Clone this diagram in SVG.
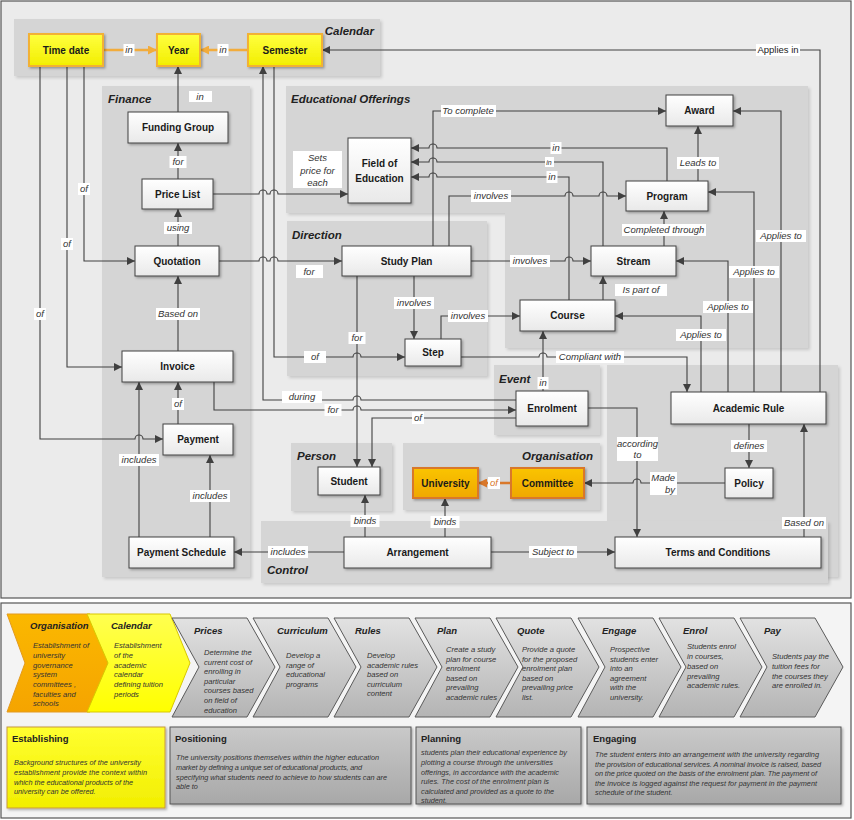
<svg xmlns="http://www.w3.org/2000/svg" width="854" height="820" viewBox="0 0 854 820">
<defs>
<linearGradient id="gw" x1="0" y1="0" x2="0" y2="1"><stop offset="0" stop-color="#ffffff"/><stop offset="1" stop-color="#e9e9e9"/></linearGradient>
<linearGradient id="gy" x1="0" y1="0" x2="0" y2="1"><stop offset="0" stop-color="#ffff40"/><stop offset="1" stop-color="#f2ee00"/></linearGradient>
<linearGradient id="go" x1="0" y1="0" x2="0" y2="1"><stop offset="0" stop-color="#fac400"/><stop offset="1" stop-color="#efa800"/></linearGradient>
<linearGradient id="gcg" x1="0" y1="0" x2="0" y2="1"><stop offset="0" stop-color="#e2e2e2"/><stop offset="1" stop-color="#b4b4b4"/></linearGradient>
<linearGradient id="gco" x1="0" y1="0" x2="0" y2="1"><stop offset="0" stop-color="#fbb800"/><stop offset="1" stop-color="#f5a400"/></linearGradient>
<linearGradient id="gcy" x1="0" y1="0" x2="0" y2="1"><stop offset="0" stop-color="#ffff50"/><stop offset="1" stop-color="#ffff00"/></linearGradient>
<linearGradient id="gbg" x1="0" y1="0" x2="0" y2="1"><stop offset="0" stop-color="#c9c9c9"/><stop offset="1" stop-color="#a8a8a8"/></linearGradient>
<linearGradient id="gby" x1="0" y1="0" x2="0" y2="1"><stop offset="0" stop-color="#ffff30"/><stop offset="1" stop-color="#f2ee00"/></linearGradient>
<filter id="sh" x="-10%" y="-10%" width="130%" height="140%"><feDropShadow dx="1.5" dy="1.5" stdDeviation="1" flood-color="#000" flood-opacity="0.3"/></filter>
<filter id="psh" x="-5%" y="-5%" width="110%" height="115%"><feDropShadow dx="2" dy="2" stdDeviation="1.5" flood-color="#000" flood-opacity="0.15"/></filter>
<marker id="a" viewBox="0 0 10 10" refX="10" refY="5" markerWidth="9" markerHeight="8" markerUnits="userSpaceOnUse" orient="auto"><path d="M0,0 L10,5 L0,10 z" fill="#404040"/></marker>
<marker id="ao" viewBox="0 0 10 10" refX="10" refY="5" markerWidth="10" markerHeight="9" markerUnits="userSpaceOnUse" orient="auto"><path d="M0,0 L10,5 L0,10 z" fill="#f2ac3c"/></marker>
<marker id="ad" viewBox="0 0 10 10" refX="10" refY="5" markerWidth="10" markerHeight="9" markerUnits="userSpaceOnUse" orient="auto"><path d="M0,0 L10,5 L0,10 z" fill="#d9782b"/></marker>
</defs>
<style>
text{font-family:"Liberation Sans",Arial,sans-serif}
.panel{fill:#d5d5d5}
.node{fill:url(#gw);stroke:#404040;stroke-width:1;filter:url(#sh)}
.ynode{fill:url(#gy);stroke:#f2b134;stroke-width:2;filter:url(#sh)}
.onode{fill:url(#go);stroke:#d9782b;stroke-width:2;filter:url(#sh)}
.nt{font-size:10px;font-weight:bold;text-anchor:middle;fill:#1a1a1a}
.gl{font-size:11.5px;font-weight:bold;font-style:italic;fill:#222}
.c{fill:none;stroke:#404040;stroke-width:1.1;marker-end:url(#a)}
.cn{fill:none;stroke:#404040;stroke-width:1.1}
.co{fill:none;stroke:#f2ac3c;stroke-width:2.5;marker-end:url(#ao)}
.cd{fill:none;stroke:#d9782b;stroke-width:2.5;marker-end:url(#ad)}
.lb{fill:#ffffff}
.lt{font-size:9.5px;font-style:italic;text-anchor:middle;fill:#333}
.chg{fill:url(#gcg);stroke:#5a5a5a;stroke-width:1}
.cht{font-size:9.5px;font-weight:bold;font-style:italic;fill:#222}
.chb{font-size:7.6px;font-style:italic;fill:#333}
.bt{font-size:9.5px;font-weight:bold;fill:#222}
.bb{font-size:7.3px;font-style:italic;fill:#333}
</style>

<!-- frames -->
<rect x="1" y="1" width="850" height="597" fill="#ebebeb" stroke="#555" stroke-width="1.2"/>
<rect x="1" y="603" width="850" height="215" fill="#f4f4f4" stroke="#555" stroke-width="1.2"/>

<!-- panels -->
<g id="panels">
<rect class="panel" x="14" y="19" width="366" height="57" filter="url(#psh)"/>
<rect class="panel" x="102" y="86" width="148" height="491" filter="url(#psh)"/>
<path class="panel" d="M286,86 H808 V348 H505 V213 H286 Z" filter="url(#psh)"/>
<rect class="panel" x="287" y="221" width="200" height="155" filter="url(#psh)"/>
<rect class="panel" x="494" y="365" width="106" height="70" filter="url(#psh)"/>
<rect class="panel" x="607" y="365" width="231" height="212" filter="url(#psh)"/>
<rect class="panel" x="261" y="521" width="567" height="62" filter="url(#psh)"/>
<rect class="panel" x="291" y="443" width="101" height="68" filter="url(#psh)"/>
<rect class="panel" x="403" y="443" width="197" height="67" filter="url(#psh)"/>
<text class="gl" x="374" y="35" text-anchor="end">Calendar</text>
<text class="gl" x="108" y="103">Finance</text>
<text class="gl" x="291" y="103">Educational Offerings</text>
<text class="gl" x="292" y="239">Direction</text>
<text class="gl" x="499" y="383">Event</text>
<text class="gl" x="297" y="460">Person</text>
<text class="gl" x="593" y="460" text-anchor="end">Organisation</text>
<text class="gl" x="267" y="574">Control</text>
</g>

<!-- connectors -->
<g id="connectors">
<path class="co" d="M103,50 H157"/>
<path class="co" d="M248,50 H200"/>
<path class="c" d="M178,112 V66"/>
<path class="c" d="M178,179 V143"/>
<path class="c" d="M178,246 V209"/>
<path class="c" d="M178,351 V276"/>
<path class="c" d="M178,424 V382"/>
<path class="c" d="M210,537 V455"/>
<path class="c" d="M139,537 V382"/>
<path class="c" d="M40,66 V439 H135 A4,4 0 0 1 143,439 H163"/>
<path class="c" d="M67,66 V367 H122"/>
<path class="c" d="M84,66 V261 H135"/>
<path class="c" d="M274,66 V357 H353 A4,4 0 0 1 361,357 H405"/>
<path class="c" d="M516,400 H361 A4,4 0 0 0 353,400 H263 V66"/>
<path class="c" d="M214,382 V410 H353 A4,4 0 0 1 361,410 H516"/>
<path class="c" d="M516,418 H372 V467"/>
<path class="c" d="M357,276 V467"/>
<path class="c" d="M219,261 H259 A4,4 0 0 1 267,261 H270 A4,4 0 0 1 278,261 H342"/>
<path class="c" d="M213,194 H259 A4,4 0 0 1 267,194 H270 A4,4 0 0 1 278,194 H348"/>
<path class="c" d="M414,276 V339"/>
<path class="c" d="M441,339 V316 H520"/>
<path class="c" d="M461,357 H539 A4,4 0 0 1 547,357 H687 V392"/>
<path class="c" d="M543,391 V331"/>
<path class="c" d="M471,261 H565 A4,4 0 0 1 573,261 H591"/>
<path class="c" d="M664,246 V211"/>
<path class="c" d="M603,300 V276"/>
<path class="c" d="M698,181 V126"/>
<path class="c" d="M433,246 V111 H666"/>
<path class="c" d="M667,181 V148 H437 A4,4 0 0 0 429,148 H411"/>
<path class="c" d="M603,246 V162 H437 A4,4 0 0 0 429,162 H411"/>
<path class="c" d="M569,300 V177 H437 A4,4 0 0 0 429,177 H411"/>
<path class="c" d="M449,246 V196 H565 A4,4 0 0 1 573,196 H599 A4,4 0 0 1 607,196 H626"/>
<path class="c" d="M781,392 V111 H733"/>
<path class="c" d="M754,392 V192 H708"/>
<path class="c" d="M728,392 V261 H676"/>
<path class="c" d="M701,392 V316 H615"/>
<path class="c" d="M820,392 V50 H322"/>
<path class="c" d="M749,424 V468"/>
<path class="c" d="M725,483 H641 A4,4 0 0 0 633,483 H584"/>
<path class="c" d="M588,408 H637 V537"/>
<path class="cd" d="M511,483 H478"/>
<path class="c" d="M445,537 V498"/>
<path class="c" d="M365,537 V495"/>
<path class="c" d="M344,552 H234"/>
<path class="c" d="M491,552 H615"/>
<path class="c" d="M804,537 V424"/>
</g>

<!-- connector labels -->
<g id="labels">
<rect class="lb" x="123.5" y="44" width="11" height="12"/><text class="lt" x="129" y="53.3">in</text>
<rect class="lb" x="217.5" y="44" width="11" height="12"/><text class="lt" x="223" y="53.3">in</text>
<rect class="lb" x="189" y="91" width="23" height="11"/><text class="lt" x="200" y="100">in</text>
<rect class="lb" x="169.5" y="156" width="17" height="12"/><text class="lt" x="178" y="165.3">for</text>
<rect class="lb" x="164" y="222" width="28" height="12"/><text class="lt" x="178" y="231.3">using</text>
<rect class="lb" x="156" y="308" width="44" height="12"/><text class="lt" x="178" y="317.3">Based on</text>
<rect class="lb" x="172" y="398" width="12" height="12"/><text class="lt" x="178" y="407.3">of</text>
<rect class="lb" x="119" y="454" width="40" height="12"/><text class="lt" x="139" y="463.3">includes</text>
<rect class="lb" x="190" y="490" width="40" height="12"/><text class="lt" x="210" y="499.3">includes</text>
<rect class="lb" x="34" y="308" width="12" height="12"/><text class="lt" x="40" y="317.3">of</text>
<rect class="lb" x="61" y="238" width="12" height="12"/><text class="lt" x="67" y="247.3">of</text>
<rect class="lb" x="78" y="183" width="12" height="12"/><text class="lt" x="84" y="192.3">of</text>
<rect class="lb" x="304" y="351" width="22" height="12"/><text class="lt" x="315" y="360.3">of</text>
<rect class="lb" x="282" y="391" width="40" height="12"/><text class="lt" x="302" y="400.3">during</text>
<rect class="lb" x="324.5" y="404" width="17" height="12"/><text class="lt" x="333" y="413.3">for</text>
<rect class="lb" x="412" y="412" width="12" height="12"/><text class="lt" x="418" y="421.3">of</text>
<rect class="lb" x="348.5" y="332" width="17" height="12"/><text class="lt" x="357" y="341.3">for</text>
<rect class="lb" x="296" y="265" width="27" height="13"/><text class="lt" x="309" y="274.5">for</text>
<rect class="lb" x="293" y="151" width="49" height="37"/>
<text class="lt" x="317.5" y="161">Sets</text><text class="lt" x="317.5" y="173.5">price for</text><text class="lt" x="317.5" y="186">each</text>
<rect class="lb" x="394" y="297" width="40" height="12"/><text class="lt" x="414" y="306.3">involves</text>
<rect class="lb" x="448" y="310" width="40" height="12"/><text class="lt" x="468" y="319.3">involves</text>
<rect class="lb" x="556" y="351" width="68" height="12"/><text class="lt" x="590" y="360.3">Compliant with</text>
<rect class="lb" x="537.5" y="377" width="11" height="12"/><text class="lt" x="543" y="386.3">in</text>
<rect class="lb" x="510" y="255" width="40" height="12"/><text class="lt" x="530" y="264.3">involves</text>
<rect class="lb" x="622" y="224" width="84" height="12"/><text class="lt" x="664" y="233.3">Completed through</text>
<rect class="lb" x="615" y="284" width="52" height="12"/><text class="lt" x="641" y="293.3">Is part of</text>
<rect class="lb" x="677" y="157" width="42" height="12"/><text class="lt" x="698" y="166.3">Leads to</text>
<rect class="lb" x="441" y="105" width="55" height="12"/><text class="lt" x="468" y="114.3">To complete</text>
<rect class="lb" x="550.5" y="142" width="11" height="12"/><text class="lt" x="556" y="151.3">in</text>
<rect class="lb" x="545" y="157" width="9" height="10"/><text class="lt" x="549" y="164.5" style="font-size:7px">in</text>
<rect class="lb" x="546.5" y="171" width="11" height="12"/><text class="lt" x="552" y="180.3">in</text>
<rect class="lb" x="471" y="190" width="40" height="12"/><text class="lt" x="491" y="199.3">involves</text>
<rect class="lb" x="756" y="230" width="50" height="12"/><text class="lt" x="781" y="239.3">Applies to</text>
<rect class="lb" x="729" y="266" width="50" height="12"/><text class="lt" x="754" y="275.3">Applies to</text>
<rect class="lb" x="703" y="301" width="50" height="12"/><text class="lt" x="728" y="310.3">Applies to</text>
<rect class="lb" x="676" y="329" width="50" height="12"/><text class="lt" x="701" y="338.3">Applies to</text>
<rect class="lb" x="756" y="44" width="44" height="12"/><text class="lt" x="778" y="53.3" style="font-style:normal;fill:#222">Applies in</text>
<rect class="lb" x="731" y="440" width="36" height="12"/><text class="lt" x="749" y="449.3">defines</text>
<rect class="lb" x="650" y="472" width="27" height="23"/>
<text class="lt" x="675" y="480.5" text-anchor="end" style="text-anchor:end">Made</text><text class="lt" x="675" y="492.5" style="text-anchor:end">by</text>
<rect class="lb" x="617" y="437" width="41" height="24"/>
<text class="lt" x="637.5" y="446.5">according</text><text class="lt" x="637.5" y="458">to</text>
<rect class="lb" x="488" y="477" width="12" height="12"/><text class="lt" x="494" y="486.3" style="fill:#d9782b">of</text>
<rect class="lb" x="430.5" y="516" width="29" height="12"/><text class="lt" x="445" y="525.3">binds</text>
<rect class="lb" x="350.5" y="515" width="29" height="12"/><text class="lt" x="365" y="524.3">binds</text>
<rect class="lb" x="268" y="546" width="40" height="12"/><text class="lt" x="288" y="555.3">includes</text>
<rect class="lb" x="529" y="546" width="48" height="12"/><text class="lt" x="553" y="555.3">Subject to</text>
<rect class="lb" x="782" y="517" width="44" height="12"/><text class="lt" x="804" y="526.3">Based on</text>
</g>

<!-- nodes -->
<g id="timedate"><rect class="ynode" x="29" y="34" width="74" height="32"/><text class="nt" x="66" y="53.5">Time date</text></g>
<g id="year"><rect class="ynode" x="157" y="34" width="43" height="32"/><text class="nt" x="178.5" y="53.5">Year</text></g>
<g id="semester"><rect class="ynode" x="248" y="34" width="74" height="32"/><text class="nt" x="285" y="53.5">Semester</text></g>
<g id="fundinggroup"><rect class="node" x="128" y="112" width="100" height="31"/><text class="nt" x="178" y="131">Funding Group</text></g>
<g id="pricelist"><rect class="node" x="142" y="179" width="71" height="30"/><text class="nt" x="177.5" y="197.5">Price List</text></g>
<g id="fieldofeducation"><rect class="node" x="348" y="138" width="63" height="65"/><text class="nt" x="379.5" y="167">Field of</text><text class="nt" x="379.5" y="182">Education</text></g>
<g id="award"><rect class="node" x="666" y="95" width="67" height="31"/><text class="nt" x="699.5" y="114">Award</text></g>
<g id="program"><rect class="node" x="626" y="181" width="82" height="30"/><text class="nt" x="667" y="199.5">Program</text></g>
<g id="quotation"><rect class="node" x="135" y="246" width="84" height="30"/><text class="nt" x="177" y="264.5">Quotation</text></g>
<g id="studyplan"><rect class="node" x="342" y="246" width="129" height="30"/><text class="nt" x="406.5" y="264.5">Study Plan</text></g>
<g id="stream"><rect class="node" x="591" y="246" width="85" height="30"/><text class="nt" x="633.5" y="264.5">Stream</text></g>
<g id="course"><rect class="node" x="520" y="300" width="95" height="31"/><text class="nt" x="567.5" y="319">Course</text></g>
<g id="step"><rect class="node" x="405" y="339" width="56" height="27"/><text class="nt" x="433" y="356">Step</text></g>
<g id="invoice"><rect class="node" x="122" y="351" width="111" height="31"/><text class="nt" x="177.5" y="370">Invoice</text></g>
<g id="enrolment"><rect class="node" x="516" y="391" width="72" height="35"/><text class="nt" x="552" y="412">Enrolment</text></g>
<g id="academicrule"><rect class="node" x="671" y="392" width="155" height="32"/><text class="nt" x="748.5" y="411.5">Academic Rule</text></g>
<g id="payment"><rect class="node" x="163" y="424" width="70" height="31"/><text class="nt" x="198" y="443">Payment</text></g>
<g id="student"><rect class="node" x="318" y="467" width="62" height="28"/><text class="nt" x="349" y="484.5">Student</text></g>
<g id="university"><rect class="onode" x="413" y="468" width="65" height="30"/><text class="nt" x="445.5" y="486.5">University</text></g>
<g id="committee"><rect class="onode" x="511" y="468" width="73" height="30"/><text class="nt" x="547.5" y="486.5">Committee</text></g>
<g id="policy"><rect class="node" x="725" y="468" width="48" height="30"/><text class="nt" x="749" y="486.5">Policy</text></g>
<g id="paymentschedule"><rect class="node" x="129" y="537" width="105" height="31"/><text class="nt" x="181.5" y="556">Payment Schedule</text></g>
<g id="arrangement"><rect class="node" x="344" y="537" width="147" height="31"/><text class="nt" x="417.5" y="556">Arrangement</text></g>
<g id="termsandconditions"><rect class="node" x="615" y="537" width="206" height="31"/><text class="nt" x="718" y="556">Terms and Conditions</text></g>

<!-- chevrons -->
<g id="chevrons">
<g id="ch-organisation"><path d="M7,614 H90 L108,663 L90,712 H7 L25,663 Z" fill="url(#gco)" stroke="#e39a1e" stroke-width="1"/>
<text class="cht" x="30" y="629">Organisation</text>
<text class="chb"><tspan x="33" y="648">Establishment of</tspan><tspan x="33" y="658">university</tspan><tspan x="33" y="667.5">governance</tspan><tspan x="33" y="677">system</tspan><tspan x="33" y="687">committees ,</tspan><tspan x="33" y="696.5">faculties and</tspan><tspan x="33" y="706">schools</tspan></text></g>
<g id="ch-calendar"><path d="M87,614 H170 L190,663 L170,712 H87 L108,663 Z" fill="url(#gcy)" stroke="#d9c800" stroke-width="1"/>
<text class="cht" x="111" y="629">Calendar</text>
<text class="chb"><tspan x="114" y="648">Establishment</tspan><tspan x="114" y="658">of the</tspan><tspan x="114" y="667.5">academic</tspan><tspan x="114" y="677">calendar</tspan><tspan x="114" y="687">defining tuition</tspan><tspan x="114" y="696.5">periods</tspan></text></g>
<g id="ch-prices"><path class="chg" d="M172,618 H247 L275,667 L247,717 H172 L199,667 Z"/>
<text class="cht" x="194" y="634">Prices</text>
<text class="chb"><tspan x="204" y="655">Determine the</tspan><tspan x="204" y="664.5">current cost of</tspan><tspan x="204" y="674">enrolling in</tspan><tspan x="204" y="683.5">particular</tspan><tspan x="204" y="693">courses based</tspan><tspan x="204" y="703">on field of</tspan><tspan x="204" y="712.5">education</tspan></text></g>
<g id="ch-curriculum"><path class="chg" d="M253,618 H328 L356,667 L328,717 H253 L280,667 Z"/>
<text class="cht" x="277" y="634">Curriculum</text>
<text class="chb"><tspan x="286" y="658">Develop a</tspan><tspan x="286" y="667.5">range of</tspan><tspan x="286" y="677">educational</tspan><tspan x="286" y="686.5">programs</tspan></text></g>
<g id="ch-rules"><path class="chg" d="M334,618 H409 L437,667 L409,717 H334 L361,667 Z"/>
<text class="cht" x="355" y="634">Rules</text>
<text class="chb"><tspan x="367" y="658">Develop</tspan><tspan x="367" y="667.5">academic rules</tspan><tspan x="367" y="677">based on</tspan><tspan x="367" y="686.5">curriculum</tspan><tspan x="367" y="696">content</tspan></text></g>
<g id="ch-plan"><path class="chg" d="M415,618 H490 L518,667 L490,717 H415 L442,667 Z"/>
<text class="cht" x="437" y="634">Plan</text>
<text class="chb"><tspan x="446" y="652">Create a study</tspan><tspan x="446" y="661.5">plan for course</tspan><tspan x="446" y="671">enrolment</tspan><tspan x="446" y="680.5">based on</tspan><tspan x="446" y="690">prevailing</tspan><tspan x="446" y="700">academic rules</tspan></text></g>
<g id="ch-quote"><path class="chg" d="M496,618 H571 L599,667 L571,717 H496 L523,667 Z"/>
<text class="cht" x="517" y="634">Quote</text>
<text class="chb"><tspan x="522" y="652">Provide a quote</tspan><tspan x="522" y="661.5">for the proposed</tspan><tspan x="522" y="671">enrolment plan</tspan><tspan x="522" y="680.5">based on</tspan><tspan x="522" y="690">prevailing price</tspan><tspan x="522" y="700">list.</tspan></text></g>
<g id="ch-engage"><path class="chg" d="M578,618 H653 L681,667 L653,717 H578 L605,667 Z"/>
<text class="cht" x="602" y="634">Engage</text>
<text class="chb"><tspan x="610" y="652">Prospective</tspan><tspan x="610" y="661.5">students enter</tspan><tspan x="610" y="671">into an</tspan><tspan x="610" y="680.5">agreement</tspan><tspan x="610" y="690">with the</tspan><tspan x="610" y="700">university.</tspan></text></g>
<g id="ch-enrol"><path class="chg" d="M659,618 H734 L762,667 L734,717 H659 L686,667 Z"/>
<text class="cht" x="683" y="634">Enrol</text>
<text class="chb"><tspan x="687" y="649">Students enrol</tspan><tspan x="687" y="659">in courses,</tspan><tspan x="687" y="669">based on</tspan><tspan x="687" y="678.5">prevailing</tspan><tspan x="687" y="688">academic rules.</tspan></text></g>
<g id="ch-pay"><path class="chg" d="M740,618 H815 L843,667 L815,717 H740 L767,667 Z"/>
<text class="cht" x="764" y="634">Pay</text>
<text class="chb"><tspan x="772" y="659">Students pay the</tspan><tspan x="772" y="669">tuition fees for</tspan><tspan x="772" y="678.5">the courses they</tspan><tspan x="772" y="688">are enrolled in.</tspan></text></g>
</g>

<!-- bottom boxes -->
<g id="box-establishing"><rect x="7" y="727" width="158" height="81" fill="url(#gby)" stroke="#c89a3c" stroke-width="1" filter="url(#sh)"/>
<text class="bt" x="12" y="742">Establishing</text>
<text class="bb" x="14" y="765" textLength="127">Background structures of the university</text>
<text class="bb" x="14" y="775" textLength="133">establishment provide the context within</text>
<text class="bb" x="14" y="784.5" textLength="119">which the educational products of the</text>
<text class="bb" x="14" y="794">university can be offered.</text></g>
<g id="box-positioning"><rect x="170" y="727" width="241" height="77" fill="url(#gbg)" stroke="#555" stroke-width="1" filter="url(#sh)"/>
<text class="bt" x="175" y="742">Positioning</text>
<text class="bb" x="176" y="760" textLength="203">The university positions themselves within the higher education</text>
<text class="bb" x="176" y="770" textLength="186">market by defining a unique set of educational products, and</text>
<text class="bb" x="176" y="779.5" textLength="211">specifying what students need to achieve to how students can are</text>
<text class="bb" x="176" y="789">able to</text></g>
<g id="box-planning"><rect x="416" y="727" width="165" height="77" fill="url(#gbg)" stroke="#555" stroke-width="1" filter="url(#sh)"/>
<text class="bt" x="421" y="742">Planning</text>
<text class="bb" x="421" y="755" textLength="146">students plan their educational experience by</text>
<text class="bb" x="421" y="765" textLength="132">plotting a course through the universities</text>
<text class="bb" x="421" y="774.5" textLength="138">offerings, in accordance with the academic</text>
<text class="bb" x="421" y="784" textLength="128">rules. The cost of the enrolment plan is</text>
<text class="bb" x="421" y="793.5" textLength="133">calculated and provided as a quote to the</text>
<text class="bb" x="421" y="803">student.</text></g>
<g id="box-engaging"><rect x="587" y="727" width="254" height="77" fill="url(#gbg)" stroke="#555" stroke-width="1" filter="url(#sh)"/>
<text class="bt" x="593" y="742">Engaging</text>
<text class="bb" x="595" y="757" textLength="224">The student enters into an arrangement with the university regarding</text>
<text class="bb" x="595" y="766.5" textLength="226">the provision of educational services. A nominal invoice is raised, based</text>
<text class="bb" x="595" y="776" textLength="222">on the price quoted on the basis of the enrolment plan. The payment of</text>
<text class="bb" x="595" y="785.5" textLength="222">the invoice is logged against the request for payment in the payment</text>
<text class="bb" x="595" y="795">schedule of the student.</text></g>
</svg>
